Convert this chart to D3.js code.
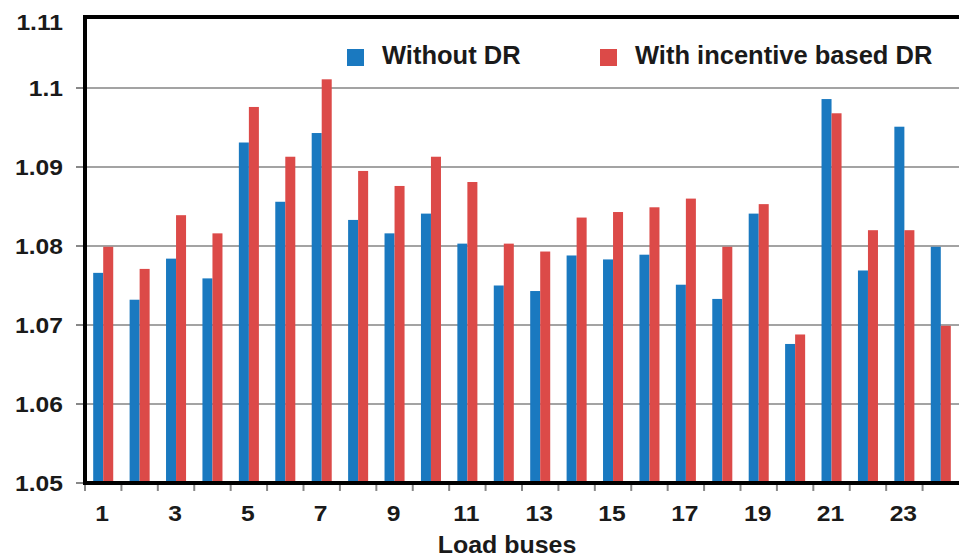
<!DOCTYPE html>
<html>
<head>
<meta charset="utf-8">
<script src="https://cdn.jsdelivr.net/npm/d3@7/dist/d3.min.js"></script>
<style>
  html, body { margin: 0; padding: 0; background: #fff; }
  svg { display: block; font-family: "Liberation Sans", Arial, sans-serif; }
</style>
</head>
<body>
<svg id="chart" width="959" height="558"></svg>
<script>
// Voltage at each load bus (p.u.)
const buses = d3.range(1, 25);
const withoutDR = [1.0766, 1.0732, 1.0784, 1.0759, 1.0931, 1.0856, 1.0943, 1.0833,
                   1.0816, 1.0841, 1.0803, 1.0750, 1.0743, 1.0788, 1.0783, 1.0789,
                   1.0751, 1.0733, 1.0841, 1.0676, 1.0986, 1.0769, 1.0951, 1.0799];
const withDR    = [1.0799, 1.0771, 1.0839, 1.0816, 1.0976, 1.0913, 1.1011, 1.0895,
                   1.0876, 1.0913, 1.0881, 1.0803, 1.0793, 1.0836, 1.0843, 1.0849,
                   1.0860, 1.0799, 1.0853, 1.0688, 1.0968, 1.0820, 1.0820, 1.0699];
const seriesNames = ["Without DR", "With incentive based DR"];
const seriesColors = ["#1a79c0", "#dc4a48"];
const yTicks = [1.05, 1.06, 1.07, 1.08, 1.09, 1.1, 1.11];
const xTickLabels = buses.filter(b => b % 2 === 1);
const xTitle = "Load buses";

const svg = d3.select("#chart");
const left = 85, right = 959, bottom = 483, frameTop = 17;
const stretch = 1.12; // slightly widened tick lettering

const x = d3.scaleBand()
  .domain(buses)
  .range([left, right])
  .paddingInner(0.45)
  .paddingOuter(0.225);
const xInner = d3.scaleBand()
  .domain([0, 1])
  .range([0, x.bandwidth()]);
const y = d3.scaleLinear()
  .domain([1.05, 1.11])
  .range([bottom, 9]);

// horizontal gridlines
svg.append("g")
  .selectAll("line")
  .data(yTicks.filter(t => t > 1.05 && t < 1.11))
  .join("line")
  .attr("x1", left - 9).attr("x2", right)
  .attr("y1", d => y(d)).attr("y2", d => y(d))
  .attr("stroke", "#a3a3a3").attr("stroke-width", 2);

// bars
const rows = buses.map((b, i) => ({ bus: b, vals: [withoutDR[i], withDR[i]] }));
svg.append("g")
  .selectAll("g")
  .data(rows)
  .join("g")
  .attr("transform", d => `translate(${x(d.bus)},0)`)
  .selectAll("rect")
  .data(d => d.vals.map((v, k) => ({ v, k })))
  .join("rect")
  .attr("x", d => xInner(d.k))
  .attr("width", xInner.bandwidth())
  .attr("y", d => y(d.v))
  .attr("height", d => bottom - y(d.v))
  .attr("fill", d => seriesColors[d.k]);

// y axis ticks and labels
const yAxis = svg.append("g");
yAxis.selectAll("line")
  .data(yTicks.filter(t => t < 1.11))
  .join("line")
  .attr("x1", left - 9).attr("x2", left)
  .attr("y1", d => y(d)).attr("y2", d => y(d))
  .attr("stroke", "#888").attr("stroke-width", 2);
yAxis.selectAll("text")
  .data(yTicks)
  .join("text")
  .attr("transform", d => `translate(63,${d === 1.11 ? frameTop + 5 : y(d)}) scale(${stretch},1)`)
  .attr("dy", "0.36em")
  .attr("text-anchor", "end")
  .attr("font-size", 22).attr("font-weight", "bold")
  .attr("fill", "#1a1a1a")
  .text(d => d3.format("")(+d.toFixed(2)));

// x axis ticks at group boundaries
const gap = x.step() - x.bandwidth();
const xAxis = svg.append("g");
xAxis.selectAll("line")
  .data(buses)
  .join("line")
  .attr("x1", d => x(d) - gap / 2).attr("x2", d => x(d) - gap / 2)
  .attr("y1", bottom).attr("y2", bottom + 8)
  .attr("stroke", "#888").attr("stroke-width", 2);
xAxis.selectAll("text")
  .data(xTickLabels)
  .join("text")
  .attr("transform", d => `translate(${x(d) + x.bandwidth() / 2 - 1},521) scale(${stretch},1)`)
  .attr("text-anchor", "middle")
  .attr("font-size", 22).attr("font-weight", "bold")
  .attr("fill", "#1a1a1a")
  .text(d => d);

svg.append("text")
  .attr("transform", "translate(507,553) scale(1.04,1)")
  .attr("text-anchor", "middle")
  .attr("font-size", 24).attr("font-weight", "bold")
  .attr("fill", "#1a1a1a")
  .text(xTitle);

// frame lines
svg.append("line")
  .attr("x1", left).attr("x2", right)
  .attr("y1", frameTop).attr("y2", frameTop)
  .attr("stroke", "#000").attr("stroke-width", 4);
svg.append("line")
  .attr("x1", left).attr("x2", left)
  .attr("y1", frameTop - 2).attr("y2", bottom + 2)
  .attr("stroke", "#000").attr("stroke-width", 4);
svg.append("line")
  .attr("x1", left - 2).attr("x2", right)
  .attr("y1", bottom).attr("y2", bottom)
  .attr("stroke", "#000").attr("stroke-width", 4);

// legend
const legendX = [347, 600];
const legend = svg.append("g")
  .selectAll("g")
  .data(seriesNames)
  .join("g")
  .attr("transform", (d, i) => `translate(${legendX[i]},49)`);
legend.append("rect")
  .attr("width", 17).attr("height", 17)
  .attr("fill", (d, i) => seriesColors[i]);
legend.append("text")
  .attr("transform", "translate(35,15) scale(1.02,1)")
  .attr("font-size", 25).attr("font-weight", "bold")
  .attr("fill", "#1a1a1a")
  .text(d => d);
</script>
</body>
</html>
